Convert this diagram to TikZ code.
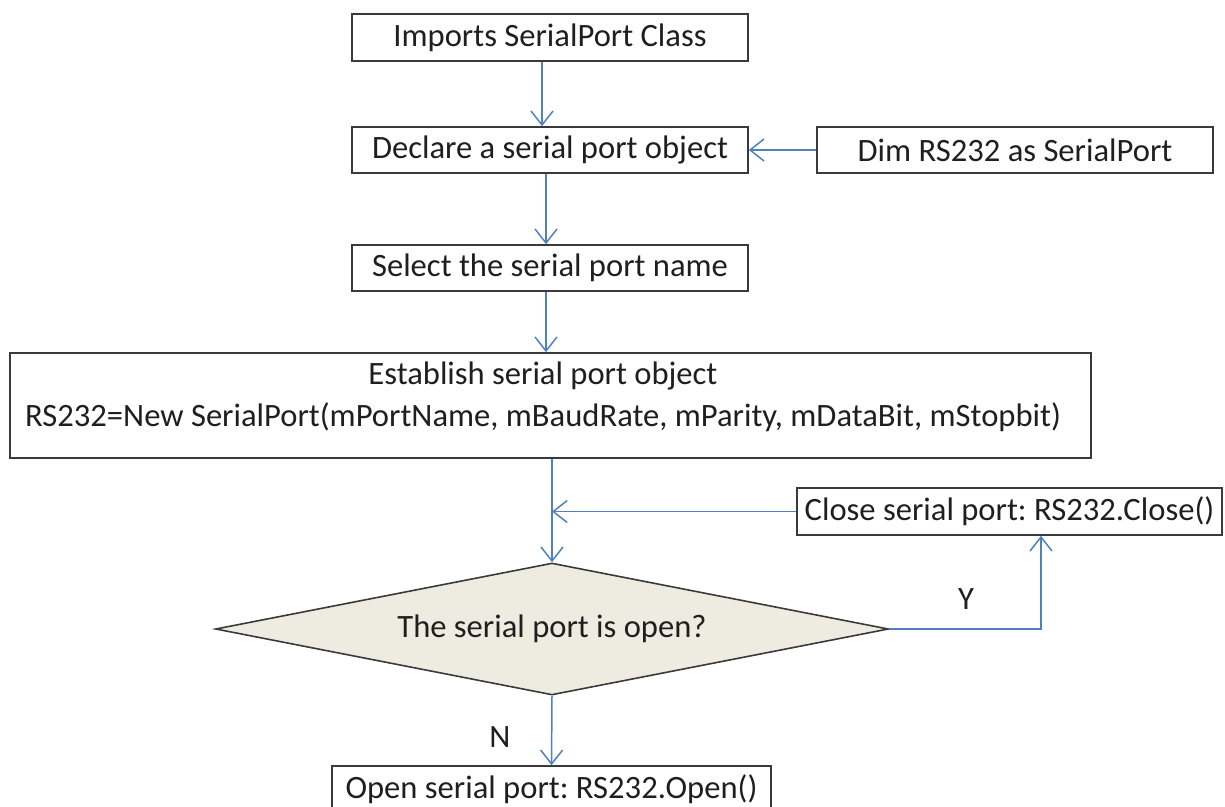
\documentclass[tikz,border=0pt]{standalone}
\usepackage{fontspec}
\setmainfont{Carlito}
\usetikzlibrary{arrows.meta,shapes.geometric}
\definecolor{lineblue}{HTML}{4F81BD}
\definecolor{boxline}{HTML}{3A3A3A}
\definecolor{dfill}{HTML}{EEECE1}
\definecolor{txt}{HTML}{1F1F1F}
\frenchspacing
\begin{document}
\frenchspacing
\begin{tikzpicture}[x=1pt,y=-1pt,
  box/.style={draw=boxline, line width=1.6pt, fill=white, text=txt,
    font=\fontsize{32.6}{42}\selectfont, inner sep=0pt, align=center},
  dia/.style={diamond, draw=boxline, line width=1.6pt, fill=dfill, text=txt,
    font=\fontsize{32.6}{42}\selectfont, inner sep=0pt, aspect=5.1,
    minimum width=673, minimum height=132},
  lbl/.style={text=txt, font=\fontsize{32.6}{42}\selectfont, inner sep=0pt},
  arr/.style={draw=lineblue, line width=1.5pt, -{Straight Barb[length=14pt,width=22pt]}}]
\useasboundingbox (0,0) rectangle (1225,806);
\clip (0,0) rectangle (1225,806);

\node[box, minimum width=396, minimum height=47] (imp) at (550,37.5) {Imports SerialPort Class};
\node[box, minimum width=396, minimum height=46] (decl) at (550,150) {Declare a serial port object};
\node[box, minimum width=396, minimum height=46] (dim) at (1015,150) {Dim RS232 as SerialPort};
\node[box, minimum width=396, minimum height=46] (sel) at (550,268) {Select the serial port name};
\node[box, minimum width=1081, minimum height=105] (est) at (550.5,405.5) {};
\node[lbl, align=center] (esttext) at (543,397) {Establish serial port object\\RS232=New SerialPort(mPortName, mBaudRate, mParity, mDataBit, mStopbit)};
\node[box, minimum width=425, minimum height=47] (close) at (1009.5,511.5) {Close serial port: RS232.Close()};
\node[dia] (dia) at (552,629) {\raisebox{4pt}{The serial port is open?}};
\node[box, minimum width=439, minimum height=46] (open) at (551.5,789) {Open serial port: RS232.Open()};

\node[lbl] (ylab) at (966,599) {Y};
\node[lbl] (nlab) at (500,737) {N};

\draw[arr] ([xshift=-8]imp.south) -- ([xshift=-8]decl.north);
\draw[arr] (dim.west) -- (decl.east);
\draw[arr] ([xshift=-4]decl.south) -- ([xshift=-4]sel.north);
\draw[arr] ([xshift=-4]sel.south) -- ([xshift=-4]sel.south |- est.north);
\draw[arr] (dia.north |- est.south) -- (dia.north);
\coordinate (join) at (dia.north |- close.west);
\draw[arr] (close.west) -- (join);
\draw[arr] (dia.east) -| ([xshift=31.5]close.south);
\draw[arr] (dia.south) -- (open.north);
\end{tikzpicture}
\end{document}
